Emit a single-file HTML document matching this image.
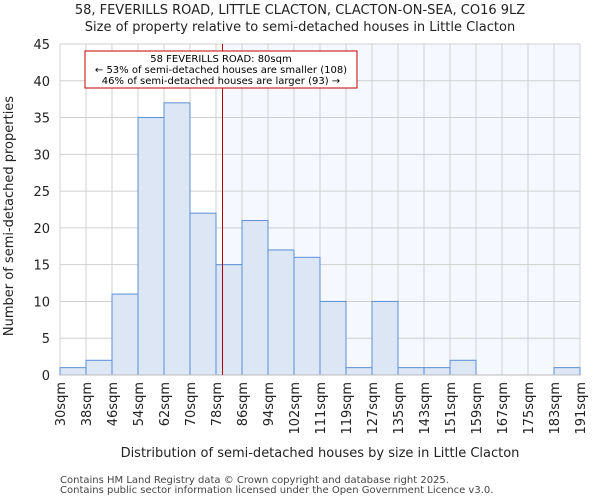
<!DOCTYPE html>
<html><head><meta charset="utf-8"><style>
body{margin:0;background:#fff;font-family:"DejaVu Sans","Liberation Sans",sans-serif}
svg text{font-family:"DejaVu Sans","Liberation Sans",sans-serif}
</style></head><body>
<svg id="c" width="600" height="500"></svg>
<script>
const binStarts=[30,38,46,54,62,70,78,86,94,102,111,119,127,135,143,151,159,167,175,183,191];
const counts=[1,2,11,35,37,22,15,21,17,16,10,1,10,1,1,2,0,0,0,1];
const yTicks=[0,5,10,15,20,25,30,35,40,45];
const marker=80;
const svg=document.getElementById('c');const NS='http://www.w3.org/2000/svg';
const L=60,R=580,T=44,B=375;
const bw=(R-L)/counts.length;
const xi=i=>L+i*bw;
const xv=v=>{for(let i=0;i<binStarts.length-1;i++){if(v<=binStarts[i+1])return xi(i)+(v-binStarts[i])/(binStarts[i+1]-binStarts[i])*bw;}return R;};
const y=v=>B-v/45*(B-T);
function el(t,a,p){const e=document.createElementNS(NS,t);for(const k in a)e.setAttribute(k,a[k]);(p||svg).appendChild(e);return e;}
let e;
e=el('rect',{x:xv(marker),y:T,width:R-xv(marker),height:B-T,fill:'#f5f8ff'});


yTicks.forEach(t=>{e=el('line',{x1:L,x2:R,y1:y(t),y2:y(t),stroke:'#d0d0d0'});


e=el('text',{x:L-10,y:y(t)+5,'text-anchor':'end','font-size':13,fill:'#222'});e.textContent=t;

});
binStarts.forEach((b,i)=>{e=el('line',{x1:xi(i),x2:xi(i),y1:T,y2:B,stroke:'#d0d0d0'});


const tx=xi(i)+5;e=el('text',{x:tx,y:382,'text-anchor':'end','font-size':13,fill:'#222',transform:`rotate(-90 ${tx} 382)`});e.textContent=b+'sqm';

});
counts.forEach((c,i)=>{if(c<=0)return;e=el('rect',{x:xi(i),y:y(c),width:bw,height:B-y(c),fill:'#dce6f5',stroke:'#5b8fd6','stroke-width':1});

});
e=el('line',{x1:L,x2:R,y1:B,y2:B,stroke:'#bbb'});


e=el('line',{x1:xv(marker),x2:xv(marker),y1:T,y2:B,stroke:'#b00000','stroke-width':1});


const g=el('g',{});
el('rect',{x:85,y:51,width:272,height:37,fill:'#fff',stroke:'#c00000'},g);
['58 FEVERILLS ROAD: 80sqm','← 53% of semi-detached houses are smaller (108)','46% of semi-detached houses are larger (93) →'].forEach((s,k)=>{const t=el('text',{x:221,y:62+k*11,'text-anchor':'middle','font-size':10,fill:'#000'},g);t.textContent=s;});
e=el('text',{x:300,y:14,'text-anchor':'middle','font-size':13,fill:'#222'});e.textContent='58, FEVERILLS ROAD, LITTLE CLACTON, CLACTON-ON-SEA, CO16 9LZ';


e=el('text',{x:300,y:31,'text-anchor':'middle','font-size':13,fill:'#222'});e.textContent='Size of property relative to semi-detached houses in Little Clacton';


e=el('text',{x:320,y:457,'text-anchor':'middle','font-size':13,fill:'#222'});e.textContent='Distribution of semi-detached houses by size in Little Clacton';


e=el('text',{x:13,y:216,'text-anchor':'middle','font-size':13,fill:'#222',transform:'rotate(-90 13 216)'});e.textContent='Number of semi-detached properties';


['Contains HM Land Registry data © Crown copyright and database right 2025.','Contains public sector information licensed under the Open Government Licence v3.0.'].forEach((s,k)=>{e=el('text',{x:60,y:483+k*10,'font-size':10,fill:'#444'});e.textContent=s;

});
</script>
</body></html>
